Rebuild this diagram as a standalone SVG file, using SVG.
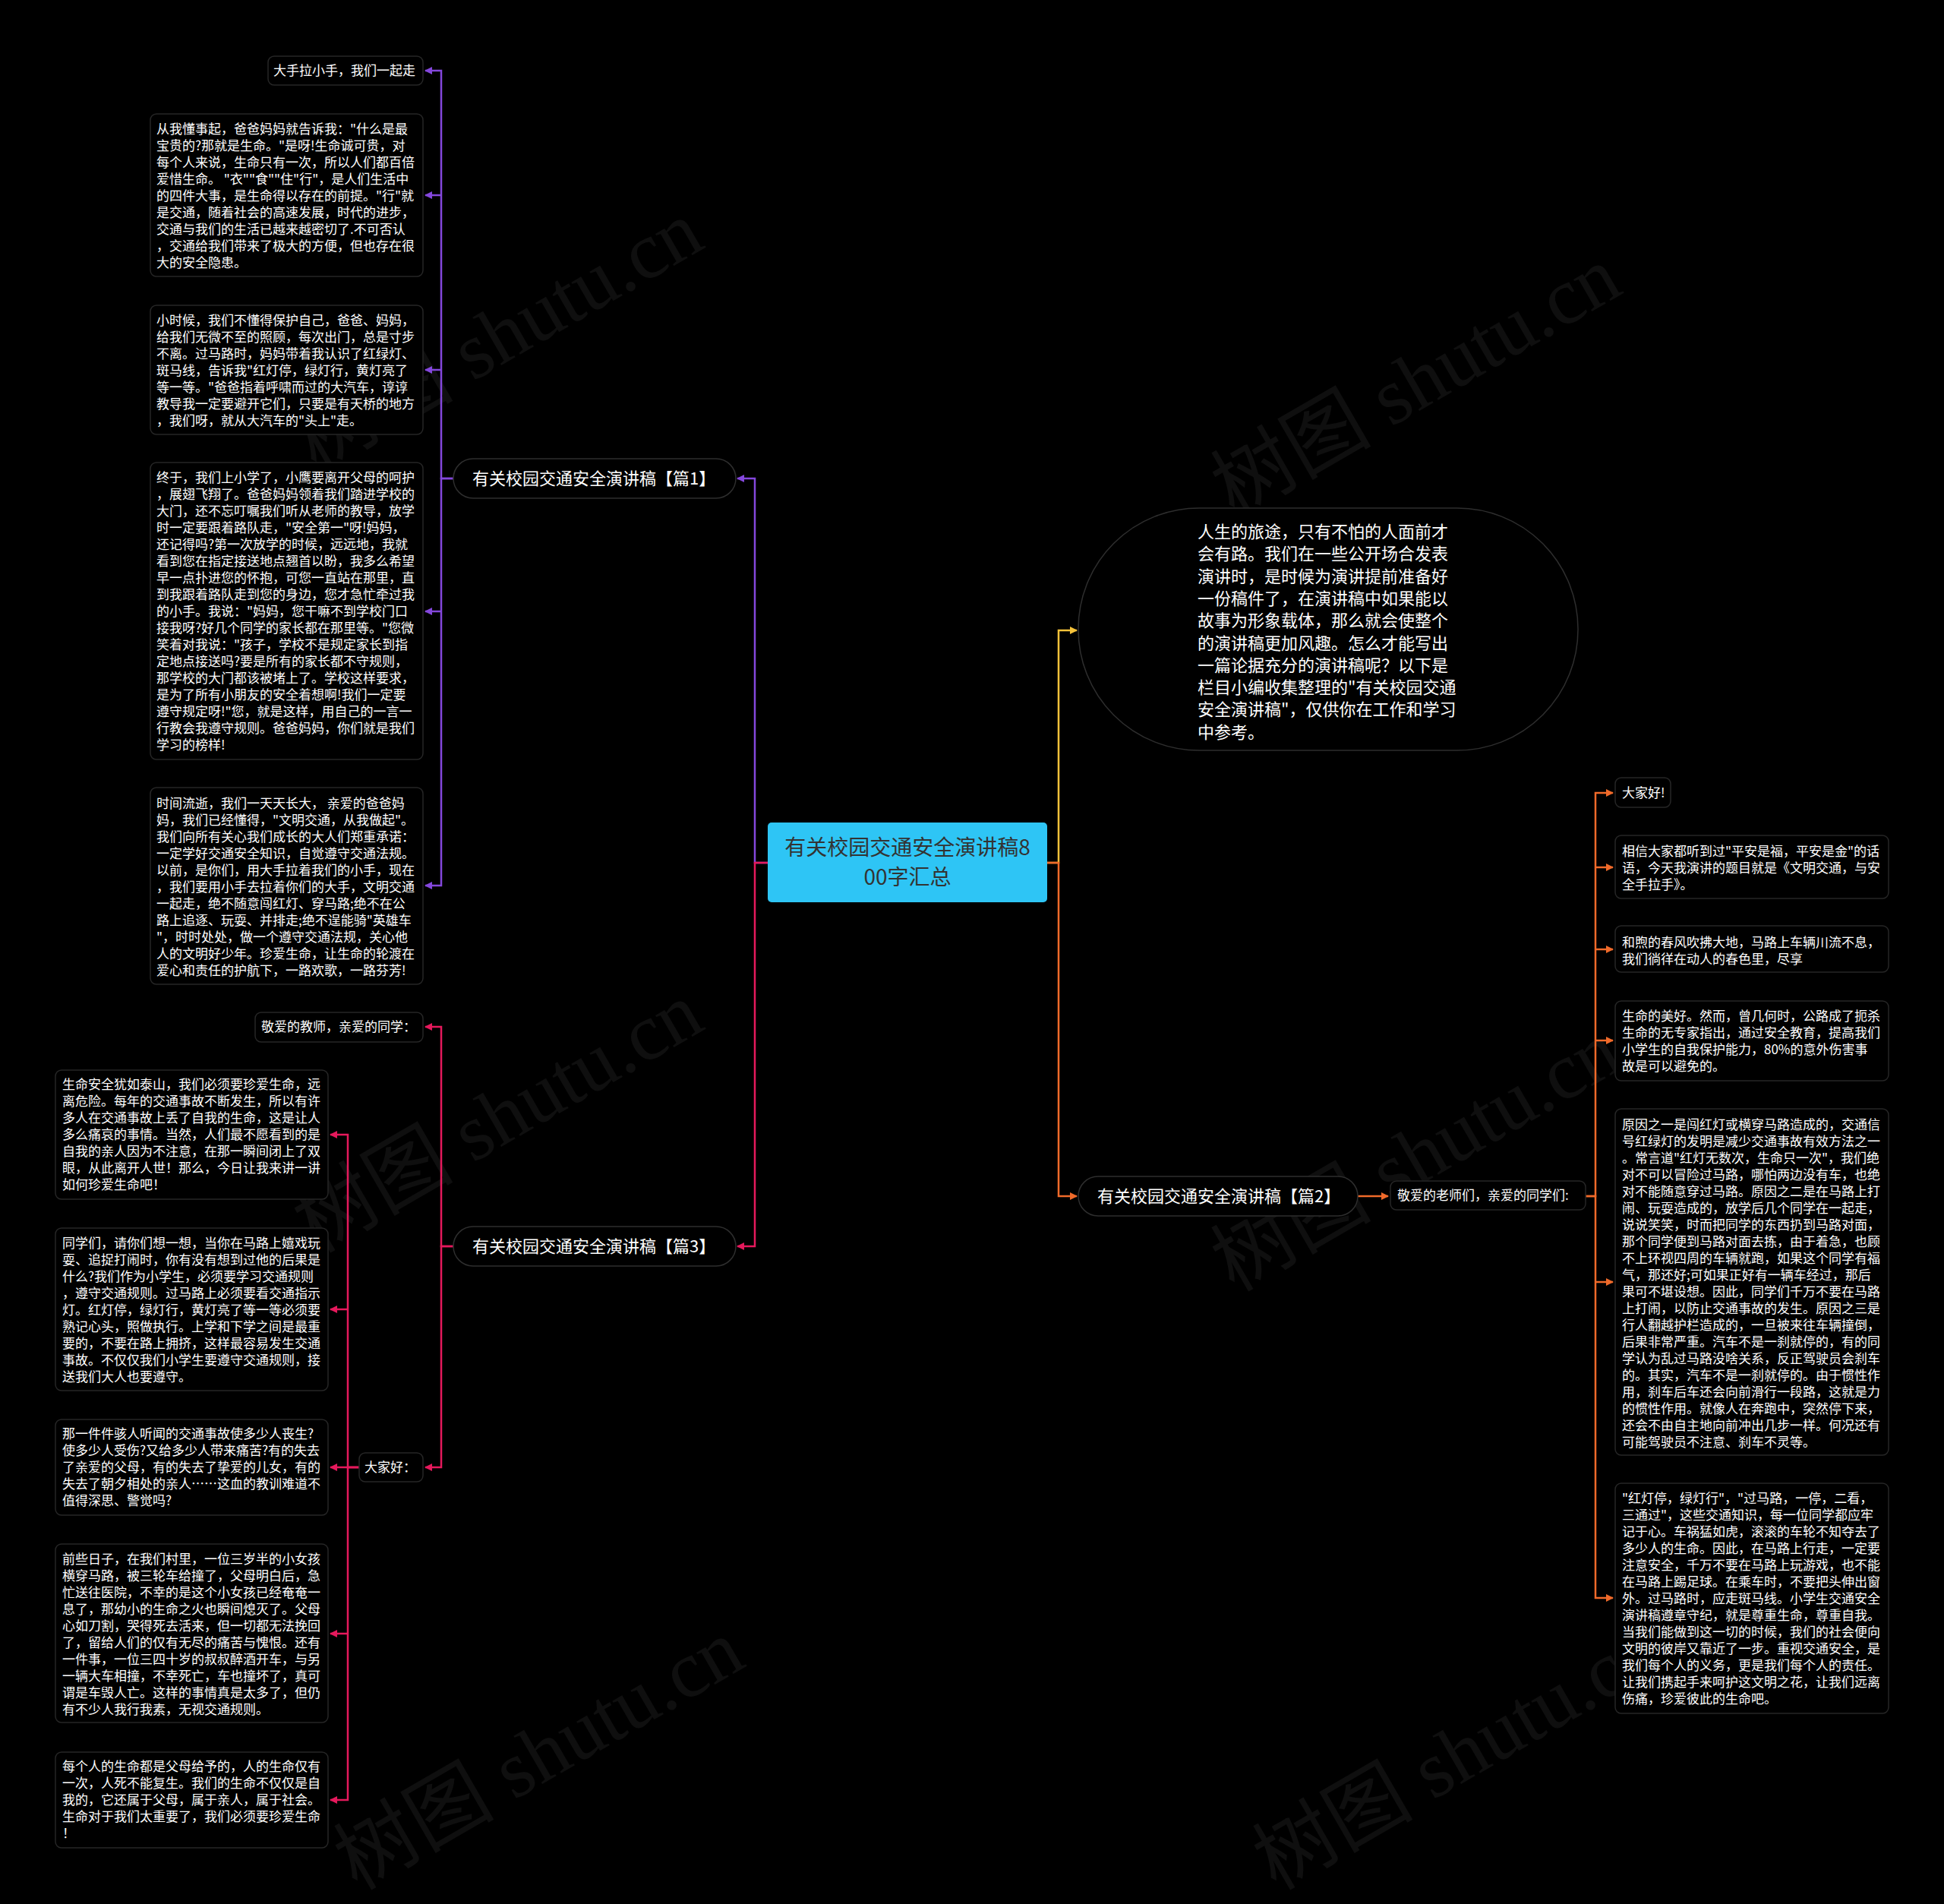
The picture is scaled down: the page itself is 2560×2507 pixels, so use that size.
<svg xmlns="http://www.w3.org/2000/svg" width="2560" height="2507" viewBox="0 0 2560 2507">
<defs>
<style>
.bg{fill:#000}
.box{fill:#000;stroke:#262626;stroke-width:1.5}
.pill{fill:#000;stroke:#2e2e2e;stroke-width:1.5}
.t{font-family:"Noto Sans CJK SC","Noto Sans",sans-serif;font-size:17px;fill:#fff}
.tp{font-family:"Noto Sans CJK SC","Noto Sans",sans-serif;font-size:22px;fill:#fff}
.tc{font-family:"Noto Sans CJK SC","Noto Sans",sans-serif;font-size:28px;fill:#333;text-anchor:middle}
.wm{font-family:"Liberation Serif","Noto Sans CJK SC",serif;font-size:106px;fill:#fff;fill-opacity:0.06}
.c{fill:none;stroke-width:2.5}
.pu{stroke:#8447dc}
.cr{stroke:#e5195c}
.ye{stroke:#f5c23a}
.or{stroke:#f06a2a}
</style>
<marker id="mpu" viewBox="0 0 10 10" refX="9" refY="5" markerWidth="4" markerHeight="4" orient="auto" markerUnits="strokeWidth"><path d="M0,0 L10,5 L0,10 z" fill="#8447dc"/></marker>
<marker id="mcr" viewBox="0 0 10 10" refX="9" refY="5" markerWidth="4" markerHeight="4" orient="auto" markerUnits="strokeWidth"><path d="M0,0 L10,5 L0,10 z" fill="#e5195c"/></marker>
<marker id="mye" viewBox="0 0 10 10" refX="9" refY="5" markerWidth="4" markerHeight="4" orient="auto" markerUnits="strokeWidth"><path d="M0,0 L10,5 L0,10 z" fill="#f5c23a"/></marker>
<marker id="mor" viewBox="0 0 10 10" refX="9" refY="5" markerWidth="4" markerHeight="4" orient="auto" markerUnits="strokeWidth"><path d="M0,0 L10,5 L0,10 z" fill="#f06a2a"/></marker>
</defs>
<rect class="bg" x="0" y="0" width="2560" height="2507"/>

<g id="watermarks">
<text class="wm" transform="translate(416,622) rotate(-30)">树图 shutu.cn</text>
<text class="wm" transform="translate(1625,682) rotate(-30)">树图 shutu.cn</text>
<text class="wm" transform="translate(416,1651) rotate(-30)">树图 shutu.cn</text>
<text class="wm" transform="translate(1625,1702) rotate(-30)">树图 shutu.cn</text>
<text class="wm" transform="translate(470,2490) rotate(-30)">树图 shutu.cn</text>
<text class="wm" transform="translate(1680,2490) rotate(-30)">树图 shutu.cn</text>
</g>

<g id="connectors">
<path class="c pu" d="M1011,1136 H994 V630 H971" marker-end="url(#mpu)"/>
<path class="c cr" d="M1011,1136 H994 V1641 H971" marker-end="url(#mcr)"/>
<path class="c ye" d="M1379,1136 H1394 V830 H1418" marker-end="url(#mye)"/>
<path class="c or" d="M1379,1136 H1394 V1575 H1418" marker-end="url(#mor)"/>
<path class="c pu" d="M597,630 H581 V93 H560" marker-end="url(#mpu)"/>
<path class="c pu" d="M581,257 H560" marker-end="url(#mpu)"/>
<path class="c pu" d="M581,487 H560" marker-end="url(#mpu)"/>
<path class="c pu" d="M581,805 H560" marker-end="url(#mpu)"/>
<path class="c pu" d="M597,630 H581 V1166 H560" marker-end="url(#mpu)"/>
<path class="c cr" d="M597,1641 H581 V1352 H560" marker-end="url(#mcr)"/>
<path class="c cr" d="M597,1641 H581 V1932 H560" marker-end="url(#mcr)"/>
<path class="c cr" d="M473,1932 H458 V1494 H435" marker-end="url(#mcr)"/>
<path class="c cr" d="M458,1724 H435" marker-end="url(#mcr)"/>
<path class="c cr" d="M473,1932 H435" marker-end="url(#mcr)"/>
<path class="c cr" d="M473,1932 H458 V2370 H435" marker-end="url(#mcr)"/>
<path class="c cr" d="M458,2151 H435" marker-end="url(#mcr)"/>
<path class="c or" d="M1788,1575 H1828" marker-end="url(#mor)"/>
<path class="c or" d="M2088,1575 H2101 V1044 H2124" marker-end="url(#mor)"/>
<path class="c or" d="M2101,1142 H2124" marker-end="url(#mor)"/>
<path class="c or" d="M2101,1250 H2124" marker-end="url(#mor)"/>
<path class="c or" d="M2101,1370 H2124" marker-end="url(#mor)"/>
<path class="c or" d="M2101,1688 H2124" marker-end="url(#mor)"/>
<path class="c or" d="M2088,1575 H2101 V2104 H2124" marker-end="url(#mor)"/>
</g>

<g id="center">
<rect x="1011" y="1083" width="368" height="105" rx="5" fill="#2ec5f5"/>
<text class="tc"><tspan x="1195" y="1126">有关校园交通安全演讲稿8</tspan><tspan x="1195" y="1165">00字汇总</tspan></text>
</g>

<g id="intro">
<rect class="pill" x="1420" y="669" width="658" height="319" rx="159" ry="159"/>
<text class="tp">
<tspan x="1577" y="708">人生的旅途，只有不怕的人面前才</tspan>
<tspan x="1577" y="737">会有路。我们在一些公开场合发表</tspan>
<tspan x="1577" y="767">演讲时，是时候为演讲提前准备好</tspan>
<tspan x="1577" y="796">一份稿件了，在演讲稿中如果能以</tspan>
<tspan x="1577" y="825">故事为形象载体，那么就会使整个</tspan>
<tspan x="1577" y="855">的演讲稿更加风趣。怎么才能写出</tspan>
<tspan x="1577" y="884">一篇论据充分的演讲稿呢？以下是</tspan>
<tspan x="1577" y="913">栏目小编收集整理的"有关校园交通</tspan>
<tspan x="1577" y="942">安全演讲稿"，仅供你在工作和学习</tspan>
<tspan x="1577" y="972">中参考。</tspan>
</text>
</g>

<g id="branch1">
<rect class="pill" x="597" y="604" width="372" height="52" rx="26"/>
<text class="tp" x="622" y="638">有关校园交通安全演讲稿【篇1】</text>
</g>
<g id="branch2">
<rect class="pill" x="1420" y="1549" width="368" height="52" rx="26"/>
<text class="tp" x="1445" y="1583">有关校园交通安全演讲稿【篇2】</text>
</g>
<g id="branch3">
<rect class="pill" x="597" y="1615" width="372" height="52" rx="26"/>
<text class="tp" x="622" y="1649">有关校园交通安全演讲稿【篇3】</text>
</g>

<g id="n1-1">
<rect class="box" x="353" y="74" width="204" height="38" rx="8"/>
<text class="t" x="360" y="99">大手拉小手，我们一起走</text>
</g>
<g id="n1-2">
<rect class="box" x="198" y="150" width="359" height="214" rx="8"/>
<text class="t">
<tspan x="206" y="176">从我懂事起，爸爸妈妈就告诉我："什么是最</tspan>
<tspan x="206" y="198">宝贵的?那就是生命。"是呀!生命诚可贵，对</tspan>
<tspan x="206" y="220">每个人来说，生命只有一次，所以人们都百倍</tspan>
<tspan x="206" y="242">爱惜生命。 "衣""食""住"行"，是人们生活中</tspan>
<tspan x="206" y="264">的四件大事，是生命得以存在的前提。"行"就</tspan>
<tspan x="206" y="286">是交通，随着社会的高速发展，时代的进步，</tspan>
<tspan x="206" y="308">交通与我们的生活已越来越密切了.不可否认</tspan>
<tspan x="206" y="330">，交通给我们带来了极大的方便，但也存在很</tspan>
<tspan x="206" y="352">大的安全隐患。</tspan>
</text>
</g>
<g id="n1-3">
<rect class="box" x="198" y="402" width="359" height="170" rx="8"/>
<text class="t">
<tspan x="206" y="428">小时候，我们不懂得保护自己，爸爸、妈妈，</tspan>
<tspan x="206" y="450">给我们无微不至的照顾，每次出门，总是寸步</tspan>
<tspan x="206" y="472">不离。过马路时，妈妈带着我认识了红绿灯、</tspan>
<tspan x="206" y="494">斑马线，告诉我"红灯停，绿灯行，黄灯亮了</tspan>
<tspan x="206" y="516">等一等。"爸爸指着呼啸而过的大汽车，谆谆</tspan>
<tspan x="206" y="538">教导我一定要避开它们，只要是有天桥的地方</tspan>
<tspan x="206" y="560">，我们呀，就从大汽车的"头上"走。</tspan>
</text>
</g>
<g id="n1-4">
<rect class="box" x="198" y="609" width="359" height="391" rx="8"/>
<text class="t">
<tspan x="206" y="635">终于，我们上小学了，小鹰要离开父母的呵护</tspan>
<tspan x="206" y="657">，展翅飞翔了。爸爸妈妈领着我们踏进学校的</tspan>
<tspan x="206" y="679">大门，还不忘叮嘱我们听从老师的教导，放学</tspan>
<tspan x="206" y="701">时一定要跟着路队走，"安全第一"呀!妈妈，</tspan>
<tspan x="206" y="723">还记得吗?第一次放学的时候，远远地，我就</tspan>
<tspan x="206" y="745">看到您在指定接送地点翘首以盼，我多么希望</tspan>
<tspan x="206" y="767">早一点扑进您的怀抱，可您一直站在那里，直</tspan>
<tspan x="206" y="789">到我跟着路队走到您的身边，您才急忙牵过我</tspan>
<tspan x="206" y="811">的小手。我说："妈妈，您干嘛不到学校门口</tspan>
<tspan x="206" y="833">接我呀?好几个同学的家长都在那里等。"您微</tspan>
<tspan x="206" y="855">笑着对我说："孩子，学校不是规定家长到指</tspan>
<tspan x="206" y="877">定地点接送吗?要是所有的家长都不守规则，</tspan>
<tspan x="206" y="899">那学校的大门都该被堵上了。学校这样要求，</tspan>
<tspan x="206" y="921">是为了所有小朋友的安全着想啊!我们一定要</tspan>
<tspan x="206" y="943">遵守规定呀!"您，就是这样，用自己的一言一</tspan>
<tspan x="206" y="965">行教会我遵守规则。爸爸妈妈，你们就是我们</tspan>
<tspan x="206" y="987">学习的榜样!</tspan>
</text>
</g>
<g id="n1-5">
<rect class="box" x="198" y="1037" width="359" height="259" rx="8"/>
<text class="t">
<tspan x="206" y="1064">时间流逝，我们一天天长大， 亲爱的爸爸妈</tspan>
<tspan x="206" y="1086">妈，我们已经懂得，"文明交通，从我做起"。</tspan>
<tspan x="206" y="1108">我们向所有关心我们成长的大人们郑重承诺：</tspan>
<tspan x="206" y="1130">一定学好交通安全知识，自觉遵守交通法规。</tspan>
<tspan x="206" y="1152">以前，是你们，用大手拉着我们的小手，现在</tspan>
<tspan x="206" y="1174">，我们要用小手去拉着你们的大手，文明交通</tspan>
<tspan x="206" y="1196">一起走，绝不随意闯红灯、穿马路;绝不在公</tspan>
<tspan x="206" y="1218">路上追逐、玩耍、并排走;绝不逞能骑"英雄车</tspan>
<tspan x="206" y="1240">"，时时处处，做一个遵守交通法规，关心他</tspan>
<tspan x="206" y="1262">人的文明好少年。珍爱生命，让生命的轮渡在</tspan>
<tspan x="206" y="1284">爱心和责任的护航下，一路欢歌，一路芬芳!</tspan>
</text>
</g>

<g id="n3-1">
<rect class="box" x="336" y="1333" width="221" height="39" rx="8"/>
<text class="t" x="344" y="1358">敬爱的教师，亲爱的同学：</text>
</g>
<g id="n3-2">
<rect class="box" x="473" y="1913" width="84" height="38" rx="8"/>
<text class="t" x="480" y="1938">大家好：</text>
</g>
<g id="n3-2-1">
<rect class="box" x="73" y="1409" width="359" height="170" rx="8"/>
<text class="t">
<tspan x="82" y="1434">生命安全犹如泰山，我们必须要珍爱生命，远</tspan>
<tspan x="82" y="1456">离危险。每年的交通事故不断发生，所以有许</tspan>
<tspan x="82" y="1478">多人在交通事故上丢了自我的生命，这是让人</tspan>
<tspan x="82" y="1500">多么痛哀的事情。当然，人们最不愿看到的是</tspan>
<tspan x="82" y="1522">自我的亲人因为不注意，在那一瞬间闭上了双</tspan>
<tspan x="82" y="1544">眼，从此离开人世！那么，今日让我来讲一讲</tspan>
<tspan x="82" y="1566">如何珍爱生命吧！</tspan>
</text>
</g>
<g id="n3-2-2">
<rect class="box" x="73" y="1617" width="359" height="214" rx="8"/>
<text class="t">
<tspan x="82" y="1643">同学们，请你们想一想，当你在马路上嬉戏玩</tspan>
<tspan x="82" y="1665">耍、追捉打闹时，你有没有想到过他的后果是</tspan>
<tspan x="82" y="1687">什么?我们作为小学生，必须要学习交通规则</tspan>
<tspan x="82" y="1709">，遵守交通规则。过马路上必须要看交通指示</tspan>
<tspan x="82" y="1731">灯。红灯停，绿灯行，黄灯亮了等一等必须要</tspan>
<tspan x="82" y="1753">熟记心头，照做执行。上学和下学之间是最重</tspan>
<tspan x="82" y="1775">要的，不要在路上拥挤，这样最容易发生交通</tspan>
<tspan x="82" y="1797">事故。不仅仅我们小学生要遵守交通规则，接</tspan>
<tspan x="82" y="1819">送我们大人也要遵守。</tspan>
</text>
</g>
<g id="n3-2-3">
<rect class="box" x="73" y="1869" width="359" height="126" rx="8"/>
<text class="t">
<tspan x="82" y="1894">那一件件骇人听闻的交通事故使多少人丧生?</tspan>
<tspan x="82" y="1916">使多少人受伤?又给多少人带来痛苦?有的失去</tspan>
<tspan x="82" y="1938">了亲爱的父母，有的失去了挚爱的儿女，有的</tspan>
<tspan x="82" y="1960">失去了朝夕相处的亲人……这血的教训难道不</tspan>
<tspan x="82" y="1982">值得深思、警觉吗?</tspan>
</text>
</g>
<g id="n3-2-4">
<rect class="box" x="73" y="2033" width="359" height="235" rx="8"/>
<text class="t">
<tspan x="82" y="2059">前些日子，在我们村里，一位三岁半的小女孩</tspan>
<tspan x="82" y="2081">横穿马路，被三轮车给撞了，父母明白后，急</tspan>
<tspan x="82" y="2103">忙送往医院，不幸的是这个小女孩已经奄奄一</tspan>
<tspan x="82" y="2125">息了，那幼小的生命之火也瞬间熄灭了。父母</tspan>
<tspan x="82" y="2147">心如刀割，哭得死去活来，但一切都无法挽回</tspan>
<tspan x="82" y="2169">了，留给人们的仅有无尽的痛苦与愧恨。还有</tspan>
<tspan x="82" y="2191">一件事，一位三四十岁的叔叔醉酒开车，与另</tspan>
<tspan x="82" y="2213">一辆大车相撞，不幸死亡，车也撞坏了，真可</tspan>
<tspan x="82" y="2235">谓是车毁人亡。这样的事情真是太多了，但仍</tspan>
<tspan x="82" y="2257">有不少人我行我素，无视交通规则。</tspan>
</text>
</g>
<g id="n3-2-5">
<rect class="box" x="73" y="2307" width="359" height="126" rx="8"/>
<text class="t">
<tspan x="82" y="2332">每个人的生命都是父母给予的，人的生命仅有</tspan>
<tspan x="82" y="2354">一次，人死不能复生。我们的生命不仅仅是自</tspan>
<tspan x="82" y="2376">我的，它还属于父母，属于亲人，属于社会。</tspan>
<tspan x="82" y="2398">生命对于我们太重要了，我们必须要珍爱生命</tspan>
<tspan x="82" y="2420">！</tspan>
</text>
</g>

<g id="n2-1">
<rect class="box" x="1831" y="1555" width="257" height="38" rx="8"/>
<text class="t" x="1840" y="1580">敬爱的老师们，亲爱的同学们:</text>
</g>
<g id="n2-1-1">
<rect class="box" x="2127" y="1024" width="73" height="39" rx="8"/>
<text class="t" x="2136" y="1050">大家好!</text>
</g>
<g id="n2-1-2">
<rect class="box" x="2127" y="1100" width="360" height="83" rx="8"/>
<text class="t">
<tspan x="2136" y="1127">相信大家都听到过"平安是福，平安是金"的话</tspan>
<tspan x="2136" y="1149">语，今天我演讲的题目就是《文明交通，与安</tspan>
<tspan x="2136" y="1171">全手拉手》。</tspan>
</text>
</g>
<g id="n2-1-3">
<rect class="box" x="2127" y="1219" width="360" height="61" rx="8"/>
<text class="t">
<tspan x="2136" y="1247">和煦的春风吹拂大地，马路上车辆川流不息，</tspan>
<tspan x="2136" y="1269">我们徜徉在动人的春色里，尽享</tspan>
</text>
</g>
<g id="n2-1-4">
<rect class="box" x="2127" y="1318" width="360" height="105" rx="8"/>
<text class="t">
<tspan x="2136" y="1344">生命的美好。然而，曾几何时，公路成了扼杀</tspan>
<tspan x="2136" y="1366">生命的无专家指出，通过安全教育，提高我们</tspan>
<tspan x="2136" y="1388">小学生的自我保护能力，80%的意外伤害事</tspan>
<tspan x="2136" y="1410">故是可以避免的。</tspan>
</text>
</g>
<g id="n2-1-5">
<rect class="box" x="2127" y="1460" width="360" height="456" rx="8"/>
<text class="t">
<tspan x="2136" y="1487">原因之一是闯红灯或横穿马路造成的，交通信</tspan>
<tspan x="2136" y="1509">号红绿灯的发明是减少交通事故有效方法之一</tspan>
<tspan x="2136" y="1531">。常言道"红灯无数次，生命只一次"，我们绝</tspan>
<tspan x="2136" y="1553">对不可以冒险过马路，哪怕两边没有车，也绝</tspan>
<tspan x="2136" y="1575">对不能随意穿过马路。原因之二是在马路上打</tspan>
<tspan x="2136" y="1597">闹、玩耍造成的，放学后几个同学在一起走，</tspan>
<tspan x="2136" y="1619">说说笑笑，时而把同学的东西扔到马路对面，</tspan>
<tspan x="2136" y="1641">那个同学便到马路对面去拣，由于着急，也顾</tspan>
<tspan x="2136" y="1663">不上环视四周的车辆就跑，如果这个同学有福</tspan>
<tspan x="2136" y="1685">气，那还好;可如果正好有一辆车经过，那后</tspan>
<tspan x="2136" y="1707">果可不堪设想。因此，同学们千万不要在马路</tspan>
<tspan x="2136" y="1729">上打闹，以防止交通事故的发生。原因之三是</tspan>
<tspan x="2136" y="1751">行人翻越护栏造成的，一旦被来往车辆撞倒，</tspan>
<tspan x="2136" y="1773">后果非常严重。汽车不是一刹就停的，有的同</tspan>
<tspan x="2136" y="1795">学认为乱过马路没啥关系，反正驾驶员会刹车</tspan>
<tspan x="2136" y="1817">的。其实，汽车不是一刹就停的。由于惯性作</tspan>
<tspan x="2136" y="1839">用，刹车后车还会向前滑行一段路，这就是力</tspan>
<tspan x="2136" y="1861">的惯性作用。就像人在奔跑中，突然停下来，</tspan>
<tspan x="2136" y="1883">还会不由自主地向前冲出几步一样。何况还有</tspan>
<tspan x="2136" y="1905">可能驾驶员不注意、刹车不灵等。</tspan>
</text>
</g>
<g id="n2-1-6">
<rect class="box" x="2127" y="1953" width="360" height="303" rx="8"/>
<text class="t">
<tspan x="2136" y="1979">"红灯停，绿灯行"，"过马路，一停，二看，</tspan>
<tspan x="2136" y="2001">三通过"，这些交通知识，每一位同学都应牢</tspan>
<tspan x="2136" y="2023">记于心。车祸猛如虎，滚滚的车轮不知夺去了</tspan>
<tspan x="2136" y="2045">多少人的生命。因此，在马路上行走，一定要</tspan>
<tspan x="2136" y="2067">注意安全，千万不要在马路上玩游戏，也不能</tspan>
<tspan x="2136" y="2089">在马路上踢足球。在乘车时，不要把头伸出窗</tspan>
<tspan x="2136" y="2111">外。过马路时，应走斑马线。小学生交通安全</tspan>
<tspan x="2136" y="2133">演讲稿遵章守纪，就是尊重生命，尊重自我。</tspan>
<tspan x="2136" y="2155">当我们能做到这一切的时候，我们的社会便向</tspan>
<tspan x="2136" y="2177">文明的彼岸又靠近了一步。重视交通安全，是</tspan>
<tspan x="2136" y="2199">我们每个人的义务，更是我们每个人的责任。</tspan>
<tspan x="2136" y="2221">让我们携起手来呵护这文明之花，让我们远离</tspan>
<tspan x="2136" y="2243">伤痛，珍爱彼此的生命吧。</tspan>
</text>
</g>
</svg>
